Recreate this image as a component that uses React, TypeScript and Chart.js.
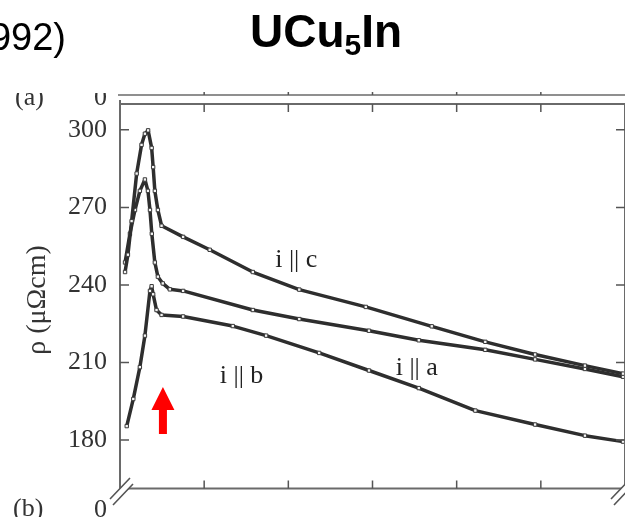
import React, { useEffect, useRef } from "react";
import { Chart, registerables } from "chart.js";

Chart.register(...registerables);

// ---- data (temperature in K, resistivity in µΩcm) ----
const C_T = [3.0, 4.7, 6.9, 9.9, 12.8, 14.8, 16.7, 18.8, 19.7, 20.7, 22.5, 24.7, 37.5, 53.3, 78.9, 106.5, 146.0, 185.2, 217.0, 246.6, 276.2, 298.8];
const C_RHO = [245.0, 251.7, 264.7, 283.1, 294.2, 298.5, 299.8, 293.0, 285.6, 276.4, 269.0, 262.9, 258.6, 253.6, 245.0, 238.2, 231.5, 224.0, 218.0, 213.1, 208.8, 205.7];

const A_T = [3.0, 5.9, 8.9, 11.8, 14.8, 16.6, 17.8, 18.9, 20.7, 22.5, 25.4, 29.6, 37.5, 78.9, 106.5, 147.9, 177.5, 217.0, 246.6, 276.2, 298.8];
const A_RHO = [248.7, 259.8, 269.0, 276.4, 280.8, 276.4, 269.0, 259.8, 248.7, 243.2, 240.6, 238.3, 237.7, 230.3, 226.8, 222.3, 218.6, 214.9, 211.2, 207.5, 204.5];

const B_T = [4.0, 7.9, 11.8, 14.8, 17.8, 18.8, 19.7, 21.7, 24.7, 37.5, 67.0, 86.8, 118.3, 147.9, 177.5, 211.1, 246.6, 276.2, 298.8];
const B_RHO = [185.4, 195.9, 208.2, 220.4, 237.7, 239.5, 236.4, 230.3, 228.4, 227.8, 224.1, 220.4, 213.7, 206.9, 200.1, 191.4, 186.0, 181.7, 179.4];

const Y_TICKS = [180, 210, 240, 270, 300];
const X_TICKS = [0, 50, 100, 150, 200, 250, 300];
const Y_MIN = 161.3;
const Y_MAX = 310;
const X_MIN = 0;
const X_MAX = 300;

const TITLE_MAIN = "UCu";
const TITLE_SUB = "5";
const TITLE_END = "In";
const CITE_TEXT = "992)";
const Y_LABEL = "ρ (μΩcm)";
const PANEL_A = "(a)";
const PANEL_B = "(b)";
const BREAK_ZERO = "0";

const SERIES_LABELS = [
  { text: "i || c", T: 104.7, rho: 249.5 },
  { text: "i || a", T: 176.3, rho: 207.8 },
  { text: "i || b", T: 72.2, rho: 204.8 },
];
const ARROW_T = 25.5;
const ARROW_TIP = 200.5;
const ARROW_BASE = 182.3;

const toPts = (xs: number[], ys: number[]) => xs.map((x, i) => ({ x, y: ys[i] }));

const SERIF = '"Liberation Serif", "DejaVu Serif", serif';
const SANS = '"Liberation Sans", Arial, sans-serif';

const decoPlugin = {
  id: "deco",
  afterDraw(chart: any) {
    const { ctx, chartArea: ca, scales } = chart;
    const xs = scales.x;
    const ys = scales.y;
    ctx.save();

    // Title with subscript
    ctx.fillStyle = "#000";
    ctx.textBaseline = "alphabetic";
    ctx.textAlign = "left";
    ctx.font = `bold 46px ${SANS}`;
    const w1 = ctx.measureText(TITLE_MAIN).width;
    const w3 = ctx.measureText(TITLE_END).width;
    ctx.font = `bold 30px ${SANS}`;
    const w2 = ctx.measureText(TITLE_SUB).width;
    let tx = 326 - (w1 + w2 + w3) / 2;
    ctx.font = `bold 46px ${SANS}`;
    ctx.fillText(TITLE_MAIN, tx, 47);
    tx += w1;
    ctx.font = `bold 30px ${SANS}`;
    ctx.fillText(TITLE_SUB, tx, 55);
    tx += w2;
    ctx.font = `bold 46px ${SANS}`;
    ctx.fillText(TITLE_END, tx, 47);

    // citation fragment
    ctx.font = `38px ${SANS}`;
    ctx.textAlign = "right";
    ctx.fillText(CITE_TEXT, 66, 50);

    // panel letters / broken-axis zeros (top ones clipped)
    ctx.fillStyle = "#333";
    ctx.font = `26px ${SERIF}`;
    ctx.save();
    ctx.beginPath();
    ctx.rect(0, 93, 200, 40);
    ctx.clip();
    ctx.textAlign = "left";
    ctx.fillText(PANEL_A, 15, 105);
    ctx.textAlign = "right";
    ctx.fillText(BREAK_ZERO, 107, 105);
    ctx.restore();
    ctx.textAlign = "left";
    ctx.fillText(PANEL_B, 13, 516);
    ctx.textAlign = "right";
    ctx.fillText(BREAK_ZERO, 107, 517);

    // y label
    ctx.save();
    ctx.translate(38, 300);
    ctx.rotate(-Math.PI / 2);
    ctx.textAlign = "center";
    ctx.textBaseline = "middle";
    ctx.font = `28px ${SERIF}`;
    ctx.fillStyle = "#333";
    ctx.fillText(Y_LABEL, 0, 0);
    ctx.restore();

    // frame
    ctx.strokeStyle = "#6a6a6a";
    ctx.lineWidth = 2;
    ctx.beginPath();
    ctx.moveTo(ca.left, 100);
    ctx.lineTo(ca.left, ca.bottom);
    ctx.lineTo(ca.right, ca.bottom);
    ctx.lineTo(ca.right, ca.top);
    ctx.lineTo(ca.left, ca.top);
    ctx.stroke();
    ctx.lineWidth = 1.5;
    ctx.beginPath();
    ctx.moveTo(ca.left - 2, 95);
    ctx.lineTo(ca.right, 95);
    ctx.stroke();

    // inward ticks
    ctx.lineWidth = 1.5;
    ctx.strokeStyle = "#555";
    ctx.beginPath();
    Y_TICKS.forEach((v) => {
      const y = ys.getPixelForValue(v);
      ctx.moveTo(ca.left, y);
      ctx.lineTo(ca.left + 9, y);
      ctx.moveTo(ca.right, y);
      ctx.lineTo(ca.right - 9, y);
    });
    X_TICKS.slice(1, -1).forEach((v) => {
      const x = xs.getPixelForValue(v);
      ctx.moveTo(x, ca.bottom);
      ctx.lineTo(x, ca.bottom - 8);
      ctx.moveTo(x, ca.top);
      ctx.lineTo(x, ca.top + 8);
      ctx.moveTo(x, 95);
      ctx.lineTo(x, 92);
    });
    ctx.stroke();

    // axis breaks
    const brk = (x0: number) => {
      ctx.fillStyle = "#fff";
      ctx.beginPath();
      ctx.moveTo(x0 - 10, 499);
      ctx.lineTo(x0 + 10, 478);
      ctx.lineTo(x0 + 13, 484);
      ctx.lineTo(x0 - 7, 505);
      ctx.closePath();
      ctx.fill();
      ctx.strokeStyle = "#555";
      ctx.lineWidth = 1.6;
      ctx.beginPath();
      ctx.moveTo(x0 - 10, 499);
      ctx.lineTo(x0 + 10, 478);
      ctx.moveTo(x0 - 7, 505);
      ctx.lineTo(x0 + 13, 484);
      ctx.stroke();
    };
    brk(ca.left);
    brk(ca.right - 4);

    // series labels
    ctx.fillStyle = "#222";
    ctx.font = `26px ${SERIF}`;
    ctx.textAlign = "center";
    ctx.textBaseline = "middle";
    SERIES_LABELS.forEach((l) => {
      ctx.fillText(l.text, xs.getPixelForValue(l.T), ys.getPixelForValue(l.rho));
    });

    // red arrow
    const ax = xs.getPixelForValue(ARROW_T);
    const tipY = ys.getPixelForValue(ARROW_TIP);
    const baseY = ys.getPixelForValue(ARROW_BASE);
    const headY = tipY + 23;
    ctx.fillStyle = "#ff0000";
    ctx.beginPath();
    ctx.moveTo(ax, tipY);
    ctx.lineTo(ax + 11.5, headY);
    ctx.lineTo(ax + 4, headY);
    ctx.lineTo(ax + 4, baseY);
    ctx.lineTo(ax - 4, baseY);
    ctx.lineTo(ax - 4, headY);
    ctx.lineTo(ax - 11.5, headY);
    ctx.closePath();
    ctx.fill();

    ctx.restore();
  },
};

const mkSet = (label: string, xs: number[], ys: number[]) => ({
  label,
  data: toPts(xs, ys),
  borderColor: "#2e2e2e",
  borderWidth: 3.5,
  borderJoinStyle: "round",
  pointStyle: "rect",
  pointRadius: 2.4,
  pointBackgroundColor: "#f4f4f4",
  pointBorderColor: "#3a3a3a",
  pointBorderWidth: 1,
  tension: 0,
  showLine: true,
});

export default function App() {
  const ref = useRef<HTMLCanvasElement | null>(null);
  useEffect(() => {
    if (!ref.current) return;
    const chart = new Chart(ref.current, {
      type: "scatter",
      data: {
        datasets: [
          mkSet("i || c", C_T, C_RHO),
          mkSet("i || a", A_T, A_RHO),
          mkSet("i || b", B_T, B_RHO),
        ],
      },
      options: {
        animation: false,
        responsive: false,
        devicePixelRatio: 1,
        layout: { padding: { left: 0, right: 3, top: 104, bottom: 10 } },
        plugins: { legend: { display: false }, tooltip: { enabled: false }, title: { display: false } },
        scales: {
          x: {
            type: "linear",
            display: false,
            min: X_MIN,
            max: X_MAX,
          },
          y: {
            type: "linear",
            min: Y_MIN,
            max: Y_MAX,
            grid: { display: false, drawTicks: false },
            border: { display: false },
            afterBuildTicks: (scale: any) => {
              scale.ticks = Y_TICKS.map((v) => ({ value: v }));
            },
            afterFit: (scale: any) => {
              scale.width = 120;
            },
            ticks: {
              padding: 13,
              color: "#333",
              font: { family: SERIF, size: 26 },
              callback: (v: any) => String(v),
            },
          },
        },
      },
      plugins: [decoPlugin],
    } as any);
    return () => chart.destroy();
  }, []);
  return (
    <div style={{ position: "fixed", left: 0, top: 0, width: 625, height: 517, overflow: "hidden", background: "#fff" }}>
      <canvas ref={ref} width={630} height={517} style={{ display: "block" }} />
    </div>
  );
}
